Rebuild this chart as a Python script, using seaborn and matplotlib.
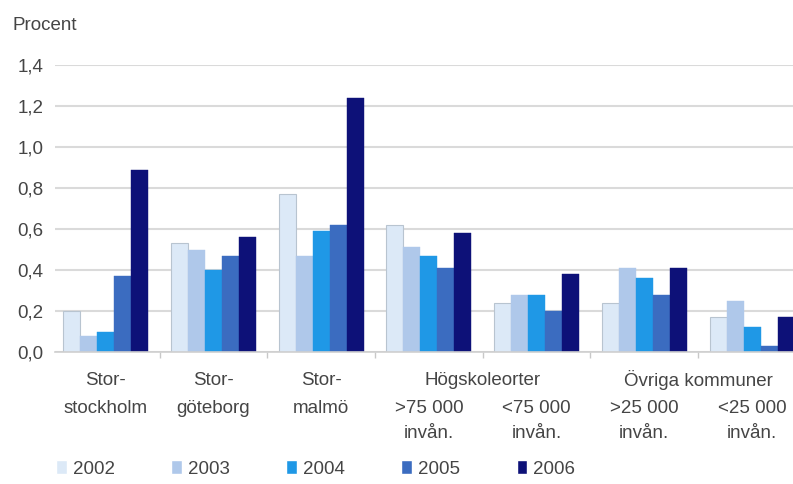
import matplotlib
matplotlib.use("Agg")
import matplotlib.pyplot as plt
from matplotlib.ticker import FuncFormatter, FixedLocator
import seaborn as sns
import pandas as pd

# Regions (x categories) and their printed labels, one list per text row
regions = ["Storstockholm", "Storgöteborg", "Stormalmö",
           "Högsk >75000", "Högsk <75000", "Övriga >25000", "Övriga <25000"]
label_row1 = ["Stor-", "Stor-", "Stor-", "", "", "", ""]
label_row2 = ["stockholm", "göteborg", "malmö", ">75 000", "<75 000", ">25 000", "<25 000"]
label_row3 = ["", "", "", "invån.", "invån.", "invån.", "invån."]
group_headers = ["Högskoleorter", "Övriga kommuner"]
header_pos = [3.5, 5.5]

years = ["2002", "2003", "2004", "2005", "2006"]
v2002 = [0.20, 0.53, 0.77, 0.62, 0.24, 0.24, 0.17]
v2003 = [0.08, 0.50, 0.47, 0.51, 0.28, 0.41, 0.25]
v2004 = [0.10, 0.40, 0.59, 0.47, 0.28, 0.36, 0.12]
v2005 = [0.37, 0.47, 0.62, 0.41, 0.20, 0.28, 0.03]
v2006 = [0.89, 0.56, 1.24, 0.58, 0.38, 0.41, 0.17]
series = [v2002, v2003, v2004, v2005, v2006]

yticks = [0.0, 0.2, 0.4, 0.6, 0.8, 1.0, 1.2, 1.4]

colors = ["#dce9f7", "#afc8ea", "#1f98e6", "#3b6cc0", "#0d1178"]
text_color = "#454545"
fs = 13.5

rows = []
for y, vals in zip(years, series):
    for r, v in zip(regions, vals):
        rows.append({"region": r, "year": y, "value": v})
df = pd.DataFrame(rows)

sns.set_theme(style="white")
plt.rcParams["font.family"] = ["Liberation Sans", "DejaVu Sans"]
plt.rcParams["font.size"] = fs

fig = plt.figure(figsize=(7.93, 4.84), dpi=100)
ax = fig.add_axes([0.0694, 0.2727, 0.9306, 0.593])

sns.barplot(data=df, x="region", y="value", hue="year", order=regions,
            hue_order=years, palette=colors, saturation=1, width=0.79,
            gap=0, errorbar=None, ax=ax, legend=True)

# Light outline on the palest bars so they stand out from the background
for container, col in zip(ax.containers, colors):
    for patch in container:
        if col == colors[0]:
            patch.set_edgecolor("#b8c4d0")
            patch.set_linewidth(0.8)
        else:
            patch.set_edgecolor(col)
            patch.set_linewidth(0.3)

ax.set_ylim(0, 1.4)
ax.set_xlim(-0.47, 6.38)
ax.set_yticks(yticks)
ax.yaxis.set_major_formatter(FuncFormatter(lambda v, _: f"{v:.1f}".replace(".", ",")))
ax.set_xticks(range(len(regions)))
ax.set_xticklabels([""] * len(regions))
ax.xaxis.set_minor_locator(FixedLocator([i + 0.5 for i in range(len(regions) - 1)]))
ax.tick_params(axis="x", which="major", length=0)
ax.tick_params(axis="x", which="minor", length=4, width=1, color="#c8c8c8",
               bottom=True)
ax.tick_params(axis="y", length=0, pad=8.5, colors=text_color, labelsize=fs)
ax.set_xlabel("")
ax.set_ylabel("")

ax.grid(axis="y", color="#dadada", linewidth=1.5)
ax.set_axisbelow(True)
for side in ["left", "right", "top"]:
    ax.spines[side].set_visible(False)
ax.spines["bottom"].set_color("#cfcfcf")
ax.spines["bottom"].set_linewidth(1.2)


def row_text(label, xpos, offset_pt):
    if label:
        ax.annotate(label, xy=(xpos, 0), xycoords=("data", "axes fraction"),
                    xytext=(0, -offset_pt), textcoords="offset points",
                    ha="center", va="center", color=text_color, fontsize=fs)


# Category labels below the axis, in three rows
row_offsets = [20.2, 40.5, 58.5]
for i in range(len(regions)):
    row_text(label_row1[i], i, row_offsets[0])
    row_text(label_row2[i], i, row_offsets[1])
    row_text(label_row3[i], i, row_offsets[2])
for label, xpos in zip(group_headers, header_pos):
    row_text(label, xpos, row_offsets[0])

fig.text(13 / 793, 1 - 25 / 484, "Procent", ha="left", va="center",
         color=text_color, fontsize=fs)

handles, labels = ax.get_legend_handles_labels()
ax.get_legend().remove()
fig.legend(handles, labels, loc="center left", bbox_to_anchor=(0.071, 1 - 469 / 484),
           ncol=5, frameon=False, handlelength=0.55, handleheight=0.75,
           handletextpad=0.35, columnspacing=3.0, fontsize=fs,
           labelcolor=text_color, borderaxespad=0, borderpad=0)

fig.savefig("out.png", dpi=100, facecolor="white")
